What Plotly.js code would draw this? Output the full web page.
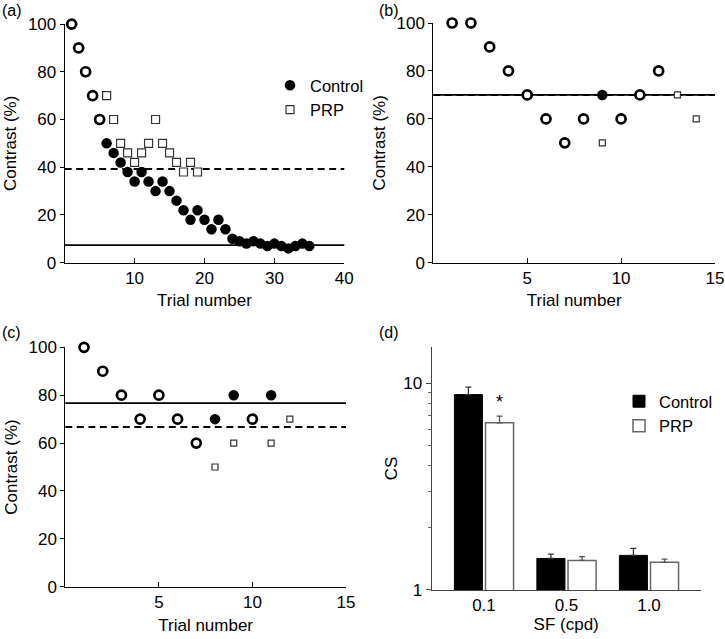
<!DOCTYPE html>
<html>
<head>
<meta charset="utf-8">
<script src="https://cdn.plot.ly/plotly-3.0.1.min.js"></script>
<style>html,body{margin:0;padding:0;background:#fff;}#chart{width:725px;height:639px;}</style>
</head>
<body>
<div id="chart"></div>
<script>
// ---------- Panel (a) ----------
const aBothX = [1, 2, 3, 4, 5];
const aBothY = [100, 90, 80, 70, 60];
const aControlX = [6, 7, 8, 9, 10, 11, 12, 13, 14, 15, 16, 17, 18, 19, 20, 21, 22, 23, 24, 25, 26, 27, 28, 29, 30, 31, 32, 33, 34, 35];
const aControlY = [50, 46, 42, 38, 34, 38, 34, 30, 34, 30, 26, 22, 18, 22, 18, 14, 18, 14, 10, 9, 8, 9, 8, 7, 8, 7, 6, 7, 8, 7];
const aPrpX = [6, 7, 8, 9, 10, 11, 12, 13, 14, 15, 16, 17, 18, 19];
const aPrpY = [70, 60, 50, 46, 42, 46, 50, 60, 50, 46, 42, 38, 42, 38];
const aControlThreshold = 7.4;
const aPrpThreshold = 39.3;

// ---------- Panel (b) ----------
const bBothX = [1, 2, 3, 4, 5, 6, 7, 8, 10, 11, 12];
const bBothY = [100, 100, 90, 80, 70, 60, 50, 60, 60, 70, 80];
const bControlX = [9];
const bControlY = [70];
const bPrpX = [9, 13, 14];
const bPrpY = [50, 70, 60];
const bControlThreshold = 70;
const bPrpThreshold = 70;

// ---------- Panel (c) ----------
const cBothX = [1, 2, 3, 4, 5, 6, 7, 10];
const cBothY = [100, 90, 80, 70, 80, 70, 60, 70];
const cControlX = [8, 9, 11];
const cControlY = [70, 80, 80];
const cPrpX = [8, 9, 11, 12];
const cPrpY = [50, 60, 60, 70];
const cControlThreshold = 76.7;
const cPrpThreshold = 66.7;

// ---------- Panel (d) ----------
const sfLabels = ['0.1', '0.5', '1.0'];
const csControl = [8.8, 1.42, 1.47];
const csControlErr = [0.77, 0.07, 0.12];
const csPrp = [6.43, 1.39, 1.36];
const csPrpErr = [0.49, 0.06, 0.05];

const FONT = 'Liberation Sans, Arial, Helvetica, sans-serif';
const FS = 17;

function bothTrace(x, y, xa, ya) {
  return {x: x, y: y, xaxis: xa, yaxis: ya, type: 'scatter', mode: 'markers', showlegend: false, cliponaxis: false,
    marker: {symbol: 'circle', size: 9, color: 'white', line: {color: 'black', width: 2.7}}};
}
function ctrlTrace(x, y, xa, ya, show) {
  return {x: x, y: y, xaxis: xa, yaxis: ya, type: 'scatter', mode: 'markers', name: 'Control', showlegend: show, cliponaxis: false,
    marker: {symbol: 'circle', size: 10.5, color: 'black', line: {color: 'black', width: 0}}};
}
function prpTrace(x, y, xa, ya, show, sz) {
  return {x: x, y: y, xaxis: xa, yaxis: ya, type: 'scatter', mode: 'markers', name: 'PRP', showlegend: show, cliponaxis: false,
    marker: {symbol: 'square', size: sz, color: 'white', line: {color: '#333', width: 1.2}}};
}

const traces = [
  ctrlTrace(aControlX, aControlY, 'x', 'y', true),
  prpTrace(aPrpX, aPrpY, 'x', 'y', true, 8),
  bothTrace(aBothX, aBothY, 'x', 'y'),

  ctrlTrace(bControlX, bControlY, 'x2', 'y2', false),
  prpTrace(bPrpX, bPrpY, 'x2', 'y2', false, 6),
  bothTrace(bBothX, bBothY, 'x2', 'y2'),

  ctrlTrace(cControlX, cControlY, 'x3', 'y3', false),
  prpTrace(cPrpX, cPrpY, 'x3', 'y3', false, 6),
  bothTrace(cBothX, cBothY, 'x3', 'y3'),

  {x: sfLabels, y: csControl, xaxis: 'x4', yaxis: 'y4', type: 'bar', name: 'Control', legend: 'legend2',
    marker: {color: 'black', line: {color: 'black', width: 1}},
    error_y: {type: 'data', array: csControlErr, arrayminus: [0, 0, 0], symmetric: false, color: '#333', thickness: 1.3, width: 3}},
  {x: sfLabels, y: csPrp, xaxis: 'x4', yaxis: 'y4', type: 'bar', name: 'PRP', legend: 'legend2',
    marker: {color: 'white', line: {color: '#666', width: 1.5}},
    error_y: {type: 'data', array: csPrpErr, arrayminus: [0, 0, 0], symmetric: false, color: '#555', thickness: 1.3, width: 3}}
];

function trialX(dom, anchor, rng, vals) {
  return {domain: dom, anchor: anchor, range: rng, tickmode: 'array', tickvals: vals, ticks: 'inside', ticklen: 5,
    tickcolor: 'black', showline: true, linecolor: 'black', linewidth: 1, showgrid: false, zeroline: false,
    tickfont: {size: FS}, title: {text: 'Trial number', font: {size: FS}, standoff: 7}};
}
function contrastY(dom, anchor) {
  return {domain: dom, anchor: anchor, range: [0, 100], tickmode: 'linear', tick0: 0, dtick: 20, ticks: 'outside', ticklen: 4,
    tickcolor: 'black', showline: true, linecolor: 'black', linewidth: 1, showgrid: false, zeroline: false,
    tickfont: {size: FS}, title: {text: 'Contrast (%)', font: {size: FS}, standoff: 6}};
}

function thr(xr, yr, val, dashed) {
  return {type: 'line', layer: 'below', xref: xr + ' domain', x0: 0, x1: 1, yref: yr, y0: val, y1: val,
    line: {color: 'black', width: dashed ? 2 : 1.8, dash: dashed ? '7px,4.5px' : 'solid'}};
}

const layout = {
  width: 725, height: 639,
  margin: {l: 0, r: 0, t: 0, b: 0},
  paper_bgcolor: 'white', plot_bgcolor: 'white',
  font: {family: FONT, size: FS, color: 'black'},
  barmode: 'group', bargap: 0.245, bargroupgap: 0.1,
  xaxis: trialX([0.0892, 0.4749], 'y', [0, 40], [10, 20, 30, 40]),
  yaxis: contrastY([0.5889, 0.9624], 'x'),
  xaxis2: trialX([0.5977, 0.9862], 'y2', [0, 15], [5, 10, 15]),
  yaxis2: contrastY([0.5889, 0.964], 'x2'),
  xaxis3: trialX([0.0901, 0.4772], 'y3', [0, 15], [5, 10, 15]),
  yaxis3: contrastY([0.0818, 0.4565], 'x3'),
  xaxis4: {domain: [0.5954, 0.9665], anchor: 'y4', type: 'category', range: [-0.634, 2.627], ticks: '',
    showline: true, linecolor: '#444', linewidth: 1, showgrid: false, zeroline: false,
    tickfont: {size: FS}, title: {text: 'SF (cpd)', font: {size: FS}, standoff: 3}},
  yaxis4: {domain: [0.0767, 0.4574], anchor: 'x4', type: 'log', range: [0, 1.176], tickmode: 'array', tickvals: [1, 10],
    ticktext: ['1', '10'], ticks: 'outside', ticklen: 5, tickcolor: '#444',
    minor: {tickmode: 'array', tickvals: [2, 3, 4, 5, 6, 7, 8, 9], ticks: 'outside', ticklen: 3, tickcolor: '#666', showgrid: false},
    showline: true, linecolor: '#444', linewidth: 1, showgrid: false, zeroline: false,
    tickfont: {size: FS}, title: {text: 'CS', font: {size: FS}, standoff: 1}},
  legend: {x: 270 / 725, xanchor: 'left', y: 1 - 68 / 639, yanchor: 'top', bgcolor: 'rgba(0,0,0,0)',
    font: {size: 16.5}, itemwidth: 30, tracegroupgap: 0},
  legend2: {x: 619 / 725, xanchor: 'left', y: 1 - 384 / 639, yanchor: 'top', bgcolor: 'rgba(0,0,0,0)',
    font: {size: 16.5}, itemwidth: 30, tracegroupgap: 0},
  shapes: [
    thr('x', 'y', aControlThreshold, false), thr('x', 'y', aPrpThreshold, true),
    thr('x2', 'y2', bControlThreshold, false), thr('x2', 'y2', bPrpThreshold, true),
    thr('x3', 'y3', cControlThreshold, false), thr('x3', 'y3', cPrpThreshold, true)
  ],
  annotations: [
    {text: '(a)', xref: 'paper', yref: 'paper', x: 0, y: 1, xanchor: 'left', yanchor: 'top', showarrow: false, font: {size: 16}},
    {text: '(b)', xref: 'paper', yref: 'paper', x: 377 / 725, y: 1, xanchor: 'left', yanchor: 'top', showarrow: false, font: {size: 16}},
    {text: '(c)', xref: 'paper', yref: 'paper', x: 0, y: 1 - 322 / 639, xanchor: 'left', yanchor: 'top', showarrow: false, font: {size: 16}},
    {text: '(d)', xref: 'paper', yref: 'paper', x: 377 / 725, y: 1 - 322 / 639, xanchor: 'left', yanchor: 'top', showarrow: false, font: {size: 16}},
    {text: '*', xref: 'x4', yref: 'y4', x: 0, y: Math.log10(csPrp[0] + csPrpErr[0]), xshift: 16, yshift: 2,
      xanchor: 'center', yanchor: 'bottom', showarrow: false, font: {size: 18}}
  ]
};

Plotly.newPlot('chart', traces, layout, {staticPlot: true, displayModeBar: false});
</script>
</body>
</html>
